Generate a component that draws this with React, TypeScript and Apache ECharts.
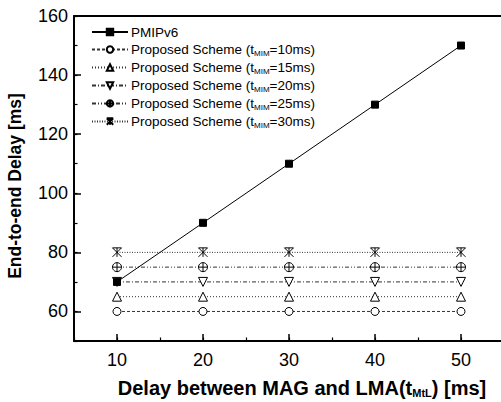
import React, { useEffect, useRef } from "react";
import * as echarts from "echarts";

const xValues = [10, 20, 30, 40, 50];
const pmipv6 = [70, 90, 110, 130, 150];
const scheme10 = [60, 60, 60, 60, 60];
const scheme15 = [65, 65, 65, 65, 65];
const scheme20 = [70, 70, 70, 70, 70];
const scheme25 = [75, 75, 75, 75, 75];
const scheme30 = [80, 80, 80, 80, 80];
const tmmLabels = ["10ms", "15ms", "20ms", "25ms", "30ms"];
const yTickLabels = [60, 80, 100, 120, 140, 160];
const xTickLabels = [10, 20, 30, 40, 50];

const FONT = "Liberation Sans, Arial, sans-serif";

const circlePlus =
  "path://M50,0A50,50,0,1,1,49.99,0Z M50,0L50,100 M0,50L100,50";
const starX = "path://M0,0L100,100 M100,0L0,100 M50,0L50,100 M0,0L100,0";
const downTri = "path://M0,0L100,0L50,90Z";

export default function App() {
  const ref = useRef<HTMLDivElement>(null);
  useEffect(() => {
    document.body.style.margin = "0";
    const chart = echarts.init(ref.current!, null, { renderer: "svg" });
    const pair = (ys: number[]) => xValues.map((x, i) => [x, ys[i]]);
    const legendName = (t: string) => `Proposed Scheme (t_MIM=${t})`;
    const lineColor = "#333";
    const mk = (
      name: string,
      data: number[],
      symbol: string,
      symbolSize: number,
      lineType: any,
      filled: boolean
    ) => ({
      name,
      type: "line",
      xAxisIndex: 0,
      yAxisIndex: 0,
      data: pair(data),
      symbol,
      symbolSize,
      showSymbol: true,
      lineStyle: { color: filled ? "#000" : lineColor, width: 1, type: lineType },
      itemStyle: {
        color: filled ? "#000" : "#fff",
        borderColor: "#000",
        borderWidth: 1,
      },
      z: filled ? 5 : 3,
    });
    const hiddenLine = { show: false };
    const option: any = {
      animation: false,
      backgroundColor: "#fff",
      textStyle: { fontFamily: FONT },
      grid: { left: 74, top: 16, width: 430, height: 325, outerBoundsMode: "none", containLabel: false },
      xAxis: [
        {
          type: "value",
          min: 5,
          max: 55,
          splitNumber: 5,
          axisLine: { show: true, lineStyle: { color: "#000", width: 2 } },
          axisTick: { show: true, inside: true, length: 7, lineStyle: { color: "#000", width: 1.5 } },
          splitLine: { show: false },
          axisLabel: {
            color: "#000",
            fontSize: 18,
            fontFamily: FONT,
            margin: 10,
            formatter: (v: number) => (xTickLabels.includes(v) ? String(v) : ""),
          },
        },
        {
          type: "value",
          position: "top",
          min: 5,
          max: 55,
          axisLine: { show: true, lineStyle: { color: "#000", width: 2 } },
          axisTick: { show: false },
          axisLabel: { show: false },
          splitLine: { show: false },
        },
        {
          type: "value",
          position: "bottom",
          min: 5,
          max: 55,
          interval: 5,
          axisLine: hiddenLine,
          axisTick: { show: true, inside: true, length: 3.5, lineStyle: { color: "#000", width: 1.2 } },
          axisLabel: { show: false },
          splitLine: { show: false },
        },
      ],
      yAxis: [
        {
          type: "value",
          min: 50,
          max: 160,
          splitNumber: 5,
          axisLine: { show: true, lineStyle: { color: "#000", width: 2 } },
          axisTick: { show: true, inside: true, length: 7, lineStyle: { color: "#000", width: 1.5 } },
          splitLine: { show: false },
          axisLabel: {
            color: "#000",
            fontSize: 18,
            fontFamily: FONT,
            margin: 6,
            formatter: (v: number) => (yTickLabels.includes(v) ? String(v) : ""),
          },
        },
        {
          type: "value",
          position: "left",
          min: 50,
          max: 160,
          interval: 10,
          axisLine: hiddenLine,
          axisTick: { show: true, inside: true, length: 3.5, lineStyle: { color: "#000", width: 1.2 } },
          axisLabel: { show: false },
          splitLine: { show: false },
        },
      ],
      legend: {
        orient: "vertical",
        left: 86,
        top: 20,
        itemWidth: 36,
        itemHeight: 8,
        itemGap: 3,
        selectedMode: false,
        formatter: (name: string) => {
          if (name.startsWith("Proposed")) {
            const m = name.match(/=(.*)\)/);
            return `{a|Proposed Scheme (t}{s|MIM}{a|=${m ? m[1] : ""})}`;
          }
          return `{a|${name}}`;
        },
        textStyle: {
          color: "#000",
          fontFamily: FONT,
          fontSize: 13.5,
          padding: [0, 0, 0, -2],
          rich: {
            a: { fontSize: 13.5, fontFamily: FONT, color: "#000", lineHeight: 13 },
            s: { fontSize: 8, fontFamily: FONT, color: "#000", lineHeight: 13, padding: [7, 0, 0, 0] },
          },
        },
      },
      graphic: [
        {
          type: "text",
          x: 15,
          y: 186,
          rotation: Math.PI / 2,
          style: {
            text: "End-to-end Delay [ms]",
            font: `bold 17.5px ${FONT}`,
            fill: "#000",
            align: "center",
            verticalAlign: "middle",
          },
        },
        {
          type: "text",
          x: 302,
          y: 388,
          style: {
            text: "{b|Delay between MAG and LMA(t}{s|MtL}{b|) [ms]}",
            align: "center",
            verticalAlign: "middle",
            rich: {
              b: { font: `bold 20px ${FONT}`, fill: "#000", lineHeight: 20 },
              s: { font: `bold 11px ${FONT}`, fill: "#000", lineHeight: 20, padding: [10, 0, 0, 0] },
            },
          },
        },
      ],
      series: [
        mk("PMIPv6", pmipv6, "rect", 7, "solid", true),
        mk(legendName(tmmLabels[0]), scheme10, "circle", 8, [3, 2], false),
        mk(legendName(tmmLabels[1]), scheme15, "triangle", 9, [1, 2], false),
        mk(legendName(tmmLabels[2]), scheme20, downTri, 9, [4, 2, 1, 2], false),
        mk(legendName(tmmLabels[3]), scheme25, circlePlus, 9, [4, 2, 1, 2, 1, 2], false),
        mk(legendName(tmmLabels[4]), scheme30, starX, 9, [1, 1.5], false),
      ],
    };
    chart.setOption(option);
    return () => chart.dispose();
  }, []);
  return <div ref={ref} style={{ width: 501, height: 402 }} />;
}
